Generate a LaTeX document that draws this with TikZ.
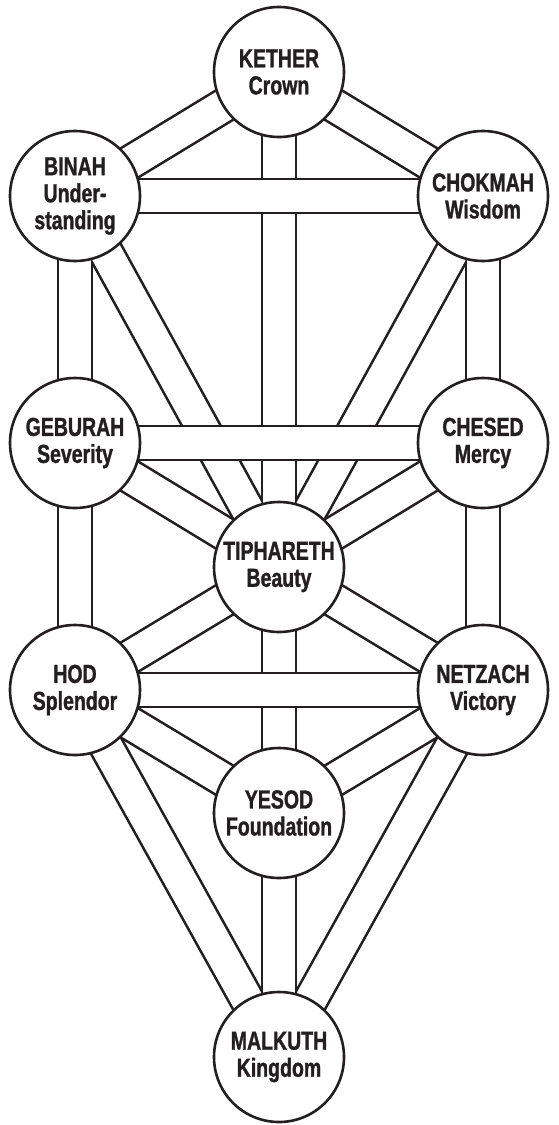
\documentclass[tikz,border=0pt]{standalone}
\usepackage{fontspec}
\newfontfamily\labfont[FakeStretch=0.75,FakeBold=1.2]{Liberation Sans}
\usetikzlibrary{backgrounds}
\definecolor{ink}{RGB}{35,31,32}
\begin{document}
\begin{tikzpicture}[x=1pt,y=-1pt,
  sephira/.style={circle, draw=ink, fill=white, line width=2.6pt, minimum size=130pt,
    inner sep=0pt, align=center, text=ink,
    font=\labfont\bfseries\fontsize{26}{27}\selectfont},
  chanout/.style={draw=ink, line width=36.5pt},
  chanin/.style={draw=white, line width=31.3pt}]
\useasboundingbox (0,0) rectangle (558,1125);
\node[sephira] (kether)    at (279,72)   {KETHER\\Crown};
\node[sephira] (binah)     at (75,196)   {BINAH\\Under-\\standing};
\node[sephira] (chokmah)   at (483,196)  {CHOKMAH\\Wisdom};
\node[sephira] (geburah)   at (75,443)   {GEBURAH\\Severity};
\node[sephira] (chesed)    at (483,443)  {CHESED\\Mercy};
\node[sephira] (tiphareth) at (279,567)  {TIPHARETH\\Beauty};
\node[sephira] (hod)       at (75,690)   {HOD\\Splendor};
\node[sephira] (netzach)   at (483,690)  {NETZACH\\Victory};
\node[sephira] (yesod)     at (279,813)  {YESOD\\Foundation};
\node[sephira] (malkuth)   at (279,1057) {MALKUTH\\Kingdom};
\begin{scope}[on background layer]
\fill[white] (0,0) rectangle (558,1125);
\foreach \a/\b in {kether/binah, kether/chokmah, kether/tiphareth, binah/tiphareth,
  chokmah/tiphareth, binah/geburah, chokmah/chesed, geburah/tiphareth, chesed/tiphareth,
  geburah/hod, chesed/netzach, tiphareth/hod, tiphareth/netzach, tiphareth/yesod,
  hod/yesod, netzach/yesod, hod/malkuth, netzach/malkuth, yesod/malkuth}
  \draw[chanout] (\a.center) -- (\b.center);
\foreach \a/\b in {kether/binah, kether/chokmah, kether/tiphareth, binah/tiphareth,
  chokmah/tiphareth, binah/geburah, chokmah/chesed, geburah/tiphareth, chesed/tiphareth,
  geburah/hod, chesed/netzach, tiphareth/hod, tiphareth/netzach, tiphareth/yesod,
  hod/yesod, netzach/yesod, hod/malkuth, netzach/malkuth, yesod/malkuth}
  \draw[chanin] (\a.center) -- (\b.center);
\foreach \a/\b in {binah/chokmah, geburah/chesed, hod/netzach}
  {\draw[chanout] (\a.center) -- (\b.center);
   \draw[chanin] (\a.center) -- (\b.center);}
\end{scope}
\end{tikzpicture}
\end{document}
